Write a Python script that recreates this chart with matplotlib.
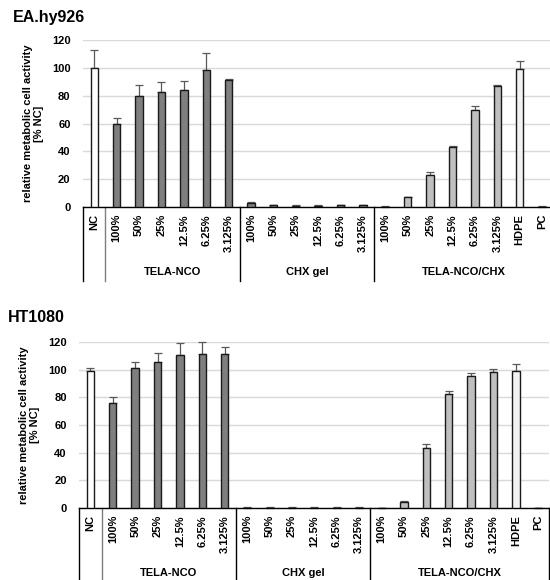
import numpy as np
import matplotlib
matplotlib.use('Agg')
import matplotlib.pyplot as plt
import matplotlib.transforms as mtransforms

plt.rcParams['font.family'] = ['Liberation Sans', 'DejaVu Sans']
plt.rcParams['font.weight'] = 'bold'

# 데이터
labels = ['NC', '100%', '50%', '25%', '12.5%', '6.25%', '3.125%',
          '100%', '50%', '25%', '12.5%', '6.25%', '3.125%',
          '100%', '50%', '25%', '12.5%', '6.25%', '3.125%', 'HDPE', 'PC']
groups = ['TELA-NCO', 'CHX gel', 'TELA-NCO/CHX']
group_start = [1, 7, 13]
group_end = [6, 12, 20]

ea_mean = [100, 60, 80, 83, 84, 98.3, 91.4,
           3.0, 1.2, 1.0, 1.0, 1.2, 1.2,
           0.3, 7.0, 22.8, 43.2, 70, 87.3, 99.3, 0.3]
ea_err = [12.5, 4.2, 7.8, 7.2, 6.8, 12.7, 0.5,
          0.4, 0.5, 0.4, 0.4, 0.6, 0.5,
          0.2, 0.3, 2.2, 0.5, 2.6, 0.5, 5.7, 0.2]

ht_mean = [99.5, 76, 101.4, 105.8, 110.5, 111.5, 111.5,
           0.4, 0.3, 0.3, 0.3, 0.3, 0.3,
           0.1, 4.5, 43.6, 82.7, 95.7, 98.8, 99.5, 0.2]
ht_err = [1.7, 4.3, 4.1, 6.2, 8.9, 8.5, 4.8,
          0.2, 0.2, 0.2, 0.2, 0.2, 0.2,
          0.1, 0.3, 2.4, 2.3, 2.3, 1.5, 5.0, 0.1]

colors = (['#ffffff'] + ['#7f7f7f'] * 6 + ['#7f7f7f'] * 6
          + ['#bfbfbf'] * 6 + ['#f2f2f2', '#7f7f7f'])


def draw_panel(ax, mean, err):
    x = np.arange(len(labels))
    ax.bar(x, mean, width=0.33, color=colors, edgecolor='#1a1a1a',
           linewidth=1.0, zorder=3)
    ax.errorbar(x, mean, yerr=[np.zeros(len(err)), err], fmt='none',
                ecolor='#595959', elinewidth=0.9, capsize=2.8, capthick=0.9,
                zorder=2, clip_on=False)
    ax.set_xlim(-0.5, len(labels) - 0.5)
    ax.set_ylim(0, 120)
    ax.set_yticks(range(0, 121, 20))
    ax.yaxis.grid(True, color='#d9d9d9', linewidth=1)
    ax.set_axisbelow(True)
    ax.tick_params(axis='y', length=0, pad=9, labelsize=8)
    ax.tick_params(axis='x', length=0, pad=5, labelsize=8)
    ax.set_xticks(x)
    ax.set_xticklabels(labels, rotation=90, va='top')
    for s in ['left', 'right', 'top']:
        ax.spines[s].set_visible(False)
    ax.spines['bottom'].set_color('#000000')
    ax.spines['bottom'].set_linewidth(1)
    ax.set_ylabel('relative metabolic cell activity\n[% NC]', fontsize=8,
                  fontweight='bold', labelpad=6, linespacing=1.1)

    # 그룹 구분선과 라벨
    trans = mtransforms.blended_transform_factory(ax.transData, ax.transAxes)
    for xs, c in [(-0.5, '#000000'), (0.5, '#7f7f7f'), (6.5, '#000000'),
                  (12.5, '#000000'), (20.5, '#000000')]:
        ax.plot([xs, xs], [0, -0.44], color=c, linewidth=1,
                transform=trans, clip_on=False)
    for name, a, b in zip(groups, group_start, group_end):
        ax.text((a + b) / 2, -0.39, name, transform=trans, ha='center',
                va='center', fontsize=8, fontweight='bold')


fig = plt.figure(figsize=(5.5, 5.8), dpi=100)
ax1 = fig.add_axes([0.151, 0.643, 0.855, 0.288])
ax2 = fig.add_axes([0.144, 0.124, 0.855, 0.286])

draw_panel(ax1, ea_mean, ea_err)
draw_panel(ax2, ht_mean, ht_err)

fig.text(13 / 550, 1 - 22 / 580, 'EA.hy926', fontsize=11.5,
         fontweight='bold', ha='left', va='baseline')
fig.text(8 / 550, 1 - 322 / 580, 'HT1080', fontsize=11.5,
         fontweight='bold', ha='left', va='baseline')

fig.savefig('out.png', dpi=100)
